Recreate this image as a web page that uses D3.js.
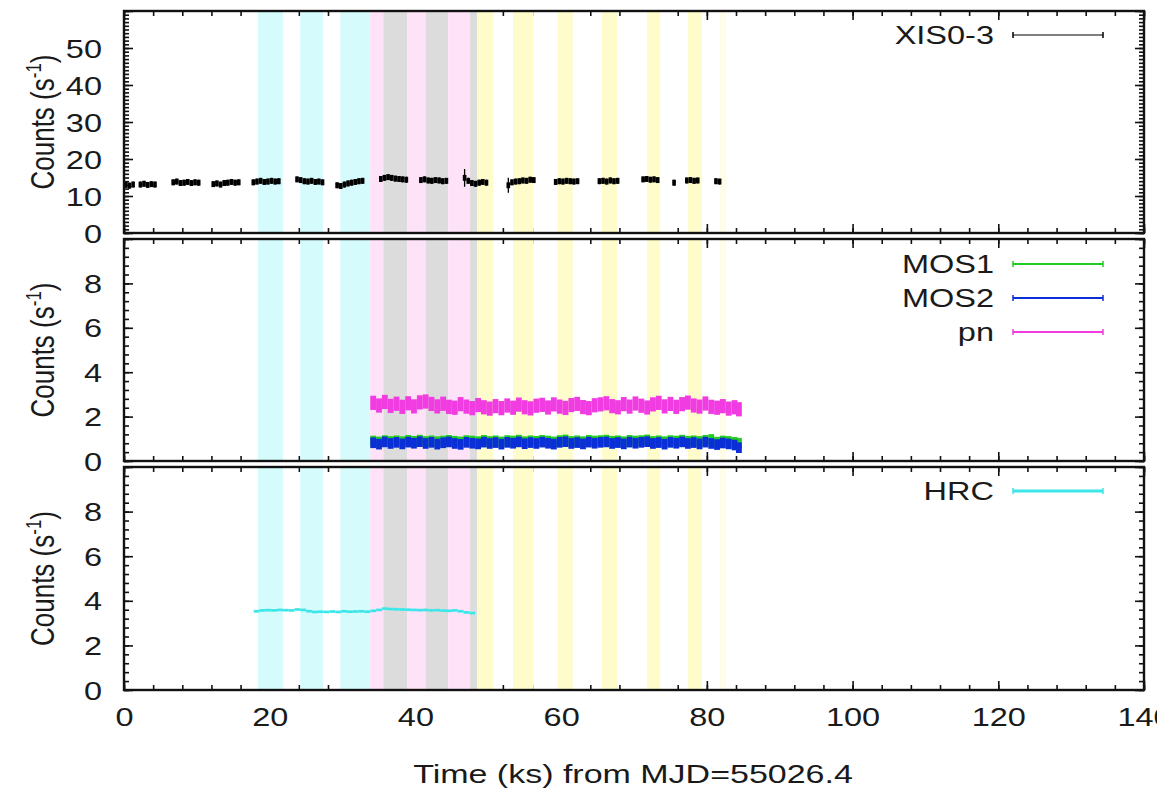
<!DOCTYPE html>
<html><head><meta charset="utf-8">
<script src="https://cdn.jsdelivr.net/npm/d3@7"></script>
<style>
html,body{margin:0;padding:0;background:#fff;}
text{font-family:"Liberation Sans",Arial,Helvetica,sans-serif;fill:#1a1a1a;}
</style></head>
<body><svg id="chart" width="1157" height="794"></svg>
<script>
// ---------------- data ----------------
const xTickValues = [0, 20, 40, 60, 80, 100, 120, 140];
const topTickValues = [0, 10, 20, 30, 40, 50];
const lowTickValues = [0, 2, 4, 6, 8];
const xTitle = "Time (ks) from MJD=55026.4";

// observation windows (ks)
const bandStart = [18.4, 24.2, 29.7, 33.8, 35.6, 38.9, 41.4, 44.5, 47.5, 48.5, 53.4, 59.5, 65.6, 71.8, 77.4, 81.8];
const bandEnd   = [21.8, 27.3, 33.8, 35.6, 38.9, 41.4, 44.5, 47.5, 48.5, 50.7, 56.2, 61.6, 67.7, 73.6, 79.3, 82.7];
const bandKind  = ["hrc","hrc","hrc","epic","both","epic","both","epic","both","xis","xis","xis","xis","xis","xis","xisFaint"];

// XIS0-3 light curve: [time ks, rate, error]
const xisData = [
 [0.25,13.0,0.8],[0.75,12.8,0.8],[1.25,13.1,0.8],
 [2.25,13.1,0.8],[2.75,13.3,0.8],[3.25,13.0,0.8],[3.75,13.2,0.8],[4.25,13.1,0.8],
 [6.75,13.7,0.8],[7.25,13.9,0.8],[7.75,13.5,0.8],[8.25,13.6,0.8],[8.75,13.8,0.8],[9.25,13.5,0.8],[9.75,13.7,0.8],[10.25,13.6,0.8],
 [12.25,13.2,0.8],[12.75,13.4,0.8],[13.25,13.1,0.8],[13.75,13.5,0.8],[14.25,13.6,0.8],[14.75,13.8,0.8],[15.25,13.6,0.8],[15.75,13.7,0.8],
 [17.75,13.7,0.8],[18.25,13.9,0.8],[18.75,14.1,0.8],[19.25,13.8,0.8],[19.75,13.9,0.8],[20.25,14.1,0.8],[20.75,13.9,0.8],[21.25,14.0,0.8],
 [23.75,14.5,0.8],[24.25,14.3,0.8],[24.75,14.0,0.8],[25.25,13.9,0.8],[25.75,14.1,0.8],[26.25,13.8,0.8],[26.75,13.9,0.8],[27.25,13.7,0.8],
 [29.25,12.9,0.8],[29.75,12.7,0.8],[30.25,13.1,0.8],[30.75,13.4,0.8],[31.25,13.6,0.8],[31.75,13.8,0.8],[32.25,14.0,0.8],[32.75,14.1,0.8],
 [35.25,14.6,0.8],[35.75,14.9,0.8],[36.25,15.1,0.8],[36.75,14.9,0.8],[37.25,14.7,0.8],[37.75,14.6,0.8],[38.25,14.5,0.8],[38.75,14.4,0.8],
 [40.75,14.3,0.8],[41.25,14.5,0.8],[41.75,14.2,0.8],[42.25,14.1,0.8],[42.75,14.3,0.8],[43.25,14.2,0.8],[43.75,14.0,0.8],[44.25,14.1,0.8],
 [46.75,14.9,2.4],[47.25,14.1,0.8],[47.75,13.5,0.8],[48.25,13.3,0.8],[48.75,13.6,0.8],[49.25,13.8,0.8],[49.75,13.6,0.8],
 [52.75,12.9,2.0],[53.25,13.7,0.8],[53.75,13.9,0.8],[54.25,14.0,0.8],[54.75,14.2,0.8],[55.25,14.1,0.8],[55.75,14.4,0.8],[56.25,14.3,0.8],
 [59.25,13.8,0.8],[59.75,14.0,0.8],[60.25,13.9,0.8],[60.75,14.1,0.8],[61.25,14.0,0.8],[61.75,13.9,0.8],[62.25,14.0,0.8],
 [65.25,14.0,0.8],[65.75,14.1,0.8],[66.25,13.9,0.8],[66.75,14.2,0.8],[67.25,14.0,0.8],[67.75,14.1,0.8],
 [71.25,14.5,0.8],[71.75,14.6,0.8],[72.25,14.4,0.8],[72.75,14.5,0.8],[73.25,14.3,0.8],
 [75.5,13.6,0.8],
 [77.25,14.2,0.8],[77.75,14.3,0.8],[78.25,14.1,0.8],[78.75,14.2,0.8],
 [81.25,14.0,0.8],[81.75,13.9,0.8]
];
const xisHalfBin = 0.25;

// XMM-Newton EPIC light curves
const epicTime = [34.2,35.0,35.8,36.6,37.4,38.2,39.0,39.8,40.6,41.4,42.2,43.0,43.8,44.6,45.4,46.2,47.0,47.8,48.6,49.4,
 50.2,51.0,51.8,52.6,53.4,54.2,55.0,55.8,56.6,57.4,58.2,59.0,59.8,60.6,61.4,62.2,63.0,63.8,64.6,65.4,
 66.2,67.0,67.8,68.6,69.4,70.2,71.0,71.8,72.6,73.4,74.2,75.0,75.8,76.6,77.4,78.2,79.0,79.8,80.6,81.4,
 82.2,83.0,83.8,84.4];
const pnRate = [2.62,2.50,2.66,2.48,2.58,2.44,2.60,2.46,2.64,2.68,
 2.57,2.46,2.58,2.44,2.40,2.56,2.45,2.38,2.52,2.42,
 2.36,2.47,2.38,2.50,2.40,2.54,2.42,2.37,2.49,2.53,
 2.41,2.55,2.45,2.39,2.52,2.57,2.43,2.38,2.51,2.55,
 2.60,2.47,2.42,2.56,2.45,2.59,2.49,2.41,2.55,2.62,
 2.46,2.57,2.44,2.56,2.63,2.50,2.45,2.59,2.44,2.40,
 2.47,2.36,2.42,2.33];
const mos1Rate = [0.90,0.86,0.92,0.88,0.91,0.87,0.93,0.89,0.94,0.88,
 0.91,0.87,0.90,0.93,0.89,0.86,0.92,0.90,0.87,0.93,
 0.88,0.91,0.86,0.92,0.90,0.94,0.87,0.91,0.89,0.93,
 0.90,0.86,0.92,0.95,0.88,0.91,0.87,0.93,0.90,0.92,
 0.94,0.89,0.91,0.87,0.93,0.90,0.92,0.95,0.88,0.91,
 0.87,0.92,0.90,0.94,0.89,0.91,0.88,0.93,0.97,0.85,
 0.90,0.88,0.84,0.80];
const mos2Rate = [0.82,0.76,0.86,0.79,0.84,0.77,0.85,0.80,0.87,0.79,
 0.84,0.76,0.82,0.86,0.79,0.75,0.84,0.80,0.77,0.85,
 0.79,0.83,0.76,0.84,0.80,0.86,0.78,0.83,0.79,0.85,
 0.80,0.76,0.84,0.87,0.79,0.83,0.77,0.85,0.80,0.84,
 0.86,0.79,0.83,0.77,0.85,0.80,0.84,0.87,0.79,0.83,
 0.76,0.84,0.80,0.86,0.79,0.83,0.77,0.85,0.79,0.74,
 0.81,0.77,0.72,0.60];
const pnErr = 0.32, mos1Err = 0.24, mos2Err = 0.24, epicHalfBin = 0.4;

// Chandra HRC light curve
const hrcTime = [18.2,19.0,19.8,20.6,21.4,22.2,23.0,23.8,24.6,25.4,
 26.2,27.0,27.8,28.6,29.4,30.2,31.0,31.8,32.6,33.4,
 34.2,35.0,35.8,36.6,37.4,38.2,39.0,39.8,40.6,41.4,
 42.2,43.0,43.8,44.6,45.4,46.2,47.0,47.8];
const hrcRate = [3.53,3.57,3.58,3.57,3.59,3.58,3.57,3.61,3.59,3.53,
 3.50,3.51,3.50,3.52,3.50,3.53,3.51,3.52,3.53,3.51,
 3.55,3.59,3.65,3.63,3.62,3.61,3.60,3.59,3.58,3.59,
 3.57,3.58,3.56,3.55,3.57,3.53,3.48,3.45];
const hrcErr = 0.06, hrcHalfBin = 0.4;

// legend labels
const topLegend = ["XIS0-3"];
const midLegend = ["MOS1", "MOS2", "pn"];
const botLegend = ["HRC"];

// ---------------- layout / style ----------------
const svg = d3.select("#chart");
const X0 = 124, X1 = 1144, SX = 1.3, FS = 24;
const x = d3.scaleLinear().domain([0, 140]).range([X0, X1]);
const bandColor = {hrc:"#d5fbfd", epic:"#fde2f8", both:"#dcdcdc", xis:"#fefccb", xisFaint:"#fffdea"};
const colors = {xis:"#000000", mos1:"#22cc22", mos2:"#0a2fd6", pn:"#f03ce0", hrc:"#3ce6e8"};

const panels = [
  {top:11, bottom:233, domain:[0,60], ticks:topTickValues, minor:1},
  {top:239, bottom:461, domain:[0,10], ticks:lowTickValues, minor:0.4},
  {top:467, bottom:690, domain:[0,10], ticks:lowTickValues, minor:0.4}
];
panels.forEach(p => p.y = d3.scaleLinear().domain(p.domain).range([p.bottom, p.top]));

function styleAxis(g){
  g.select(".domain").remove();
  g.selectAll("line").attr("stroke","#111").attr("stroke-width",1.6);
}

panels.forEach((p, i) => {
  const g = svg.append("g");
  const h = p.bottom - p.top;
  const xMinor = d3.range(0, 140.01, 4);
  const yMinor = d3.range(p.domain[0], p.domain[1] + 1e-6, p.minor);
  const yMajor = d3.range(p.domain[0], p.domain[1] + 1e-6, p.ticks[1] - p.ticks[0]);
  const ax = [
    [d3.axisBottom(x).tickValues(xMinor).tickSize(-5), `translate(0,${p.bottom})`],
    [d3.axisBottom(x).tickValues(xTickValues).tickSize(-9), `translate(0,${p.bottom})`],
    [d3.axisTop(x).tickValues(xMinor).tickSize(-5), `translate(0,${p.top})`],
    [d3.axisTop(x).tickValues(xTickValues).tickSize(-9), `translate(0,${p.top})`],
    [d3.axisLeft(p.y).tickValues(yMinor).tickSize(-5), `translate(${X0},0)`],
    [d3.axisLeft(p.y).tickValues(yMajor).tickSize(-9), `translate(${X0},0)`],
    [d3.axisRight(p.y).tickValues(yMinor).tickSize(-5), `translate(${X1},0)`],
    [d3.axisRight(p.y).tickValues(yMajor).tickSize(-9), `translate(${X1},0)`]
  ];
  ax.forEach(([a, t]) => {
    g.append("g").attr("transform", t).call(a.tickFormat("")).call(styleAxis);
  });
  // bands (drawn over ticks)
  g.append("g").selectAll("rect").data(bandStart.map((s, k) => ({s, e: bandEnd[k], kind: bandKind[k]})))
    .join("rect")
    .attr("x", d => x(d.s)).attr("width", d => x(d.e) - x(d.s))
    .attr("y", p.top).attr("height", h)
    .attr("fill", d => bandColor[d.kind]);
  // y tick labels
  const lab = g.append("g").attr("transform", `translate(${X0 - 22},0)`)
    .call(d3.axisLeft(p.y).tickValues(p.ticks).tickSize(0).tickPadding(0));
  lab.select(".domain").remove();
  lab.selectAll("text").attr("font-size", 25).attr("x", 0).attr("dy", "0.36em")
    .attr("transform", `scale(${SX},1)`)
    .style("font-family", "'Liberation Sans',Arial,sans-serif").attr("fill", "#1a1a1a");
  // y title
  const cy = (p.top + p.bottom) / 2;
  const t = g.append("text").attr("transform", `translate(54,${cy}) scale(${SX},1) rotate(-90)`)
    .attr("text-anchor", "middle").attr("font-size", 26);
  t.append("tspan").text("Counts (s");
  t.append("tspan").attr("dy", -10).attr("font-size", 17).text("-1");
  t.append("tspan").attr("dy", 10).text(")");
  p.g = g;
});

// ---------------- data marks ----------------
function boxes(g, y, times, rates, err, halfBin, color){
  g.append("g").selectAll("rect").data(times.map((t, k) => ({t, v: rates[k]})))
    .join("rect")
    .attr("x", d => x(d.t - halfBin)).attr("width", d => x(d.t + halfBin) - x(d.t - halfBin))
    .attr("y", d => y(d.v + err)).attr("height", d => y(d.v - err) - y(d.v + err))
    .attr("fill", color);
}

// XIS
{
  const p = panels[0], g = p.g.append("g");
  g.selectAll("rect").data(xisData).join("rect")
    .attr("x", d => x(d[0] - xisHalfBin)).attr("width", d => x(d[0] + xisHalfBin) - x(d[0] - xisHalfBin))
    .attr("y", d => p.y(d[1] + 0.8)).attr("height", d => p.y(d[1] - 0.8) - p.y(d[1] + 0.8))
    .attr("fill", colors.xis);
  g.selectAll("line").data(xisData).join("line")
    .attr("x1", d => x(d[0])).attr("x2", d => x(d[0]))
    .attr("y1", d => p.y(d[1] - d[2])).attr("y2", d => p.y(d[1] + d[2]))
    .attr("stroke", colors.xis).attr("stroke-width", 1.3);
}
// EPIC
{
  const p = panels[1];
  boxes(p.g, p.y, epicTime, pnRate, pnErr, epicHalfBin, colors.pn);
  boxes(p.g, p.y, epicTime, mos1Rate, mos1Err, epicHalfBin, colors.mos1);
  boxes(p.g, p.y, epicTime, mos2Rate, mos2Err, epicHalfBin, colors.mos2);
}
// HRC
{
  const p = panels[2];
  boxes(p.g, p.y, hrcTime, hrcRate, hrcErr, hrcHalfBin, colors.hrc);
}

// ---------------- borders ----------------
panels.forEach(p => {
  p.g.append("rect").attr("x", X0).attr("y", p.top).attr("width", X1 - X0).attr("height", p.bottom - p.top)
    .attr("fill", "none").attr("stroke", "#111").attr("stroke-width", 2.4);
});

// ---------------- legends ----------------
function legend(p, labels, cols, widths, y0){
  labels.forEach((l, k) => {
    const yy = y0 + k * 34;
    p.g.append("text").attr("transform", `translate(994,${yy}) scale(${SX},1)`)
      .attr("text-anchor", "end").attr("dy", "0.36em").attr("font-size", 25).text(l);
    const lg = p.g.append("g").attr("stroke", cols[k]);
    lg.append("line").attr("x1", 1013).attr("x2", 1103).attr("y1", yy).attr("y2", yy).attr("stroke-width", widths[k]);
    lg.append("line").attr("x1", 1013).attr("x2", 1013).attr("y1", yy - 3).attr("y2", yy + 3).attr("stroke-width", 1.5);
    lg.append("line").attr("x1", 1103).attr("x2", 1103).attr("y1", yy - 3).attr("y2", yy + 3).attr("stroke-width", 1.5);
  });
}
legend(panels[0], topLegend, [colors.xis], [1.2], 35);
legend(panels[1], midLegend, [colors.mos1, colors.mos2, colors.pn], [2, 2, 2], 264);
legend(panels[2], botLegend, [colors.hrc], [3], 491);

// ---------------- x axis labels ----------------
const xl = svg.append("g").attr("transform", `translate(0,${panels[2].bottom + 18})`)
  .call(d3.axisBottom(x).tickValues(xTickValues).tickSize(0).tickPadding(0));
xl.select(".domain").remove();
xl.selectAll(".tick text").attr("font-size", 25).attr("y", 0).attr("dy", "0.71em")
  .attr("transform", `scale(${SX},1)`)
  .style("font-family", "'Liberation Sans',Arial,sans-serif").attr("fill", "#1a1a1a");
svg.append("text").attr("transform", `translate(${(X0 + X1) / 2 - 1},${783}) scale(1.36,1)`)
  .attr("text-anchor", "middle").attr("font-size", 25).text(xTitle);
</script></body></html>
